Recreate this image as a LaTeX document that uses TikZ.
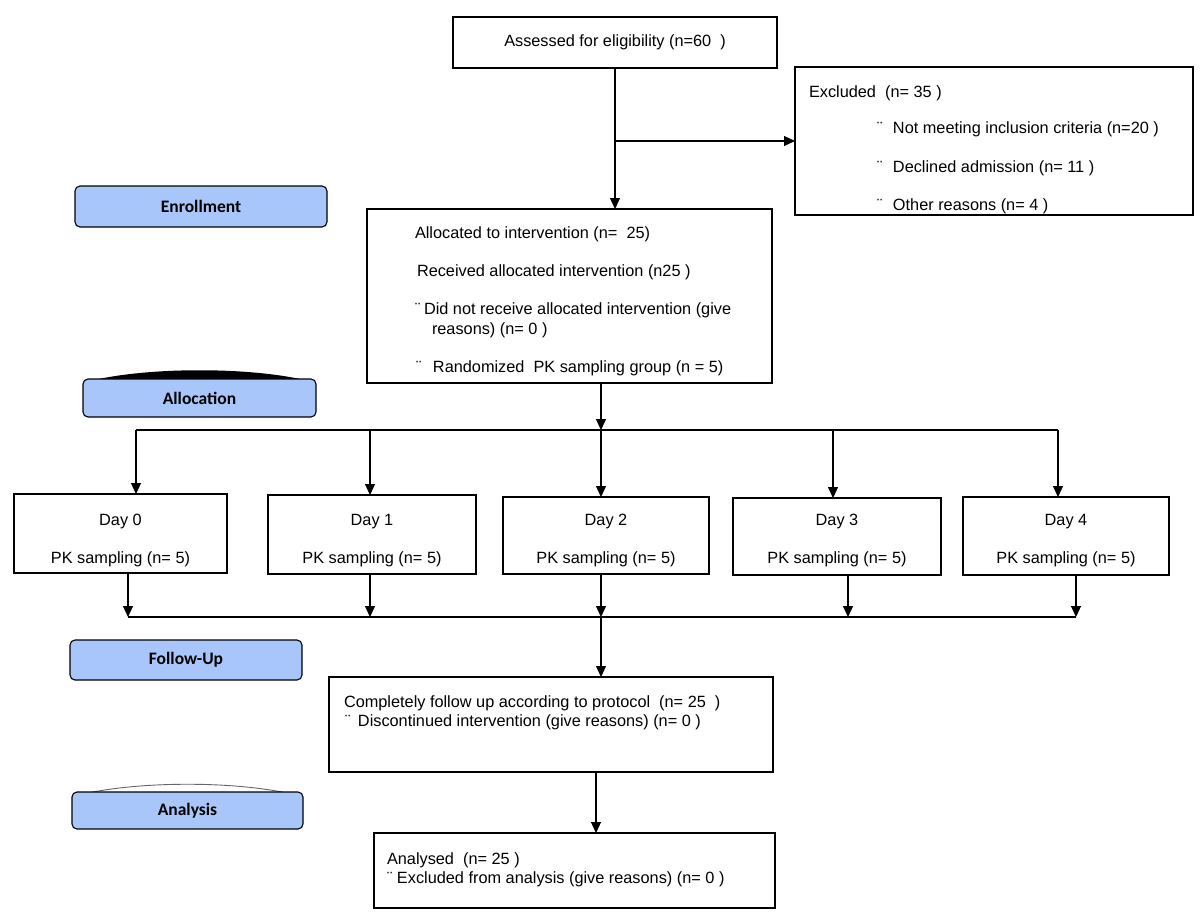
\documentclass[tikz,border=0pt]{standalone}
\usepackage{fontspec}
\setmainfont{Liberation Sans}
\newfontfamily\labfont{Carlito}
\usetikzlibrary{arrows.meta}
\definecolor{lblue}{RGB}{168,198,250}
\begin{document}
\begin{tikzpicture}[x=1pt,y=-1pt,
  box/.style={draw, line width=1.1pt, rectangle, inner sep=0pt, outer sep=0pt},
  txt/.style={inner sep=0pt, outer sep=0pt, font=\fontsize{16.3}{19}\selectfont, anchor=base west},
  ctxt/.style={inner sep=0pt, outer sep=0pt, font=\fontsize{16.3}{19}\selectfont, anchor=base},
  lab/.style={draw, line width=1.1pt, rounded corners=5pt, fill=lblue, inner sep=0pt, font=\labfont\bfseries\fontsize{17.5}{20}\selectfont},
  conn/.style={line width=1.1pt},
  arr/.style={conn, -{Triangle[length=11pt,width=10pt]}}
]
\useasboundingbox (0,0) rectangle (1200,924);

% ---- main boxes
\node[box, minimum width=324pt, minimum height=51pt, font=\fontsize{16.3}{19}\selectfont] (assess) at (615,42.5) {Assessed for eligibility (n=60\ \ )};
\node[box, minimum width=398pt, minimum height=148pt] (excl) at (994,141) {};
\node[box, minimum width=405pt, minimum height=174pt] (alloc) at (569.5,296) {};
\node[box, minimum width=213pt, minimum height=79pt] (d0) at (120.5,533.5) {};
\node[box, minimum width=208pt, minimum height=79pt] (d1) at (372,534.5) {};
\node[box, minimum width=206pt, minimum height=77pt] (d2) at (606,535.5) {};
\node[box, minimum width=208pt, minimum height=77pt] (d3) at (837,536.5) {};
\node[box, minimum width=206pt, minimum height=78pt] (d4) at (1066,536) {};
\node[box, minimum width=444pt, minimum height=95pt] (fup) at (551,724.5) {};
\node[box, minimum width=401pt, minimum height=75pt] (anal) at (574.5,870.5) {};

% ---- texts: excluded
\node[txt] (ex0) at (809,97.5) {Excluded\ \ (n= 35 )};
\node[txt] (ex1) at (877,133.5) {\makebox[16pt][l]{¨}Not meeting inclusion criteria (n=20 )};
\node[txt] (ex2) at (877,172.5) {\makebox[16pt][l]{¨}Declined admission (n= 11 )};
\node[txt] (ex3) at (877,210.5) {\makebox[16pt][l]{¨}Other reasons (n= 4 )};

% ---- texts: allocation
\node[txt] (al0) at (415,238.5) {Allocated to intervention (n=\ \ 25)};
\node[txt] (al1) at (417,276.5) {Received allocated intervention (n25 )};
\node[txt] (al2) at (415,314.5) {\makebox[9pt][l]{¨}Did not receive allocated intervention (give};
\node[txt] (al3) at (432,334.5) {reasons) (n= 0 )};
\node[txt] (al4) at (416,372.5) {\makebox[17pt][l]{¨}Randomized\ \ PK sampling group (n = 5)};

% ---- texts: days
\node[ctxt] (d0a) at (120.5,525.5) {Day 0};
\node[ctxt] (d0b) at (120.5,563) {PK sampling (n= 5)};
\node[ctxt] (d1a) at (372,525.5) {Day 1};
\node[ctxt] (d1b) at (372,563) {PK sampling (n= 5)};
\node[ctxt] (d2a) at (606,525.5) {Day 2};
\node[ctxt] (d2b) at (606,563) {PK sampling (n= 5)};
\node[ctxt] (d3a) at (837,525.5) {Day 3};
\node[ctxt] (d3b) at (837,563) {PK sampling (n= 5)};
\node[ctxt] (d4a) at (1066,525.5) {Day 4};
\node[ctxt] (d4b) at (1066,563) {PK sampling (n= 5)};

% ---- texts: follow-up, analysis
\node[txt] (fu0) at (344,707.5) {Completely follow up according to protocol\ \ (n= 25\ \ )};
\node[txt] (fu1) at (345,726.5) {\makebox[13pt][l]{¨}Discontinued intervention (give reasons) (n= 0 )};
\node[txt] (an0) at (387,864.5) {Analysed\ \ (n= 25 )};
\node[txt] (an1) at (387,883.5) {\makebox[10pt][l]{¨}Excluded from analysis (give reasons) (n= 0 )};

% ---- stage labels
\node[lab, minimum width=252pt, minimum height=41pt] (enr) at (201,206.5) {Enrollment};
\fill (83,383) .. controls (140,366) and (259,366) .. (316,383) -- cycle;
\node[lab, minimum width=233pt, minimum height=38pt] (allocL) at (199.5,398) {Allocation};
\node[lab, minimum width=232pt, minimum height=40pt] (fuL) at (186,660) {Follow-Up};
\draw[line width=0.9pt, draw=black!60, fill=white] (72,797) .. controls (130,780) and (245,780) .. (303,797);
\node[lab, minimum width=231pt, minimum height=37pt] (anL) at (187.5,810.5) {Analysis};

% ---- coordinates for buses
\coordinate (tl) at (136,430);
\coordinate (tr) at (1058,430);
\coordinate (busTop) at (601,430);
\coordinate (t3) at (833,430);
\coordinate (bl) at (128,617);
\coordinate (br) at (1076,617);
\coordinate (busBot) at (601,617);
\coordinate (b3) at (848,617);
\coordinate (b1) at (370,617);
\coordinate (t1) at (370,430);
\coordinate (fdown) at (596,772);

% ---- connectors
\draw[arr] (assess.south) -- (assess.south |- alloc.north);
\draw[arr] (assess.south |- excl.west) -- (excl.west);
\draw[arr] (alloc.south -| busTop) -- (busTop);
\draw[conn] (tl) -- (tr);
\draw[arr] (tl) -- (tl |- d0.north);
\draw[arr] (t1) -- (t1 |- d1.north);
\draw[arr] (busTop) -- (busTop |- d2.north);
\draw[arr] (t3) -- (t3 |- d3.north);
\draw[arr] (tr) -- (tr |- d4.north);
\draw[arr] (d0.south -| bl) -- (bl);
\draw[arr] (d1.south -| b1) -- (b1);
\draw[arr] (d2.south -| busBot) -- (busBot);
\draw[arr] (d3.south -| b3) -- (b3);
\draw[arr] (d4.south -| br) -- (br);
\draw[conn] (bl) -- (br);
\draw[arr] (busBot) -- (busBot |- fup.north);
\draw[arr] (fdown) -- (fdown |- anal.north);
\end{tikzpicture}
\end{document}
